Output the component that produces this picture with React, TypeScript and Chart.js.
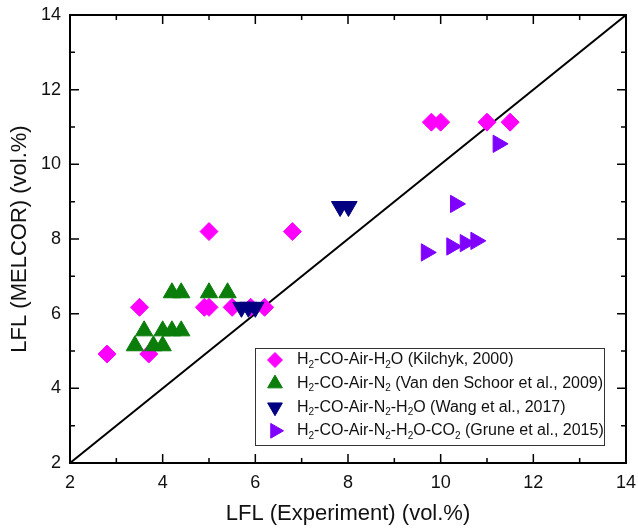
import { useEffect, useRef } from 'react';
import { Chart, registerables } from 'chart.js';
import { drawPoint } from 'chart.js/helpers';

Chart.register(...registerables);

const FONT = '"Liberation Sans", Arial, sans-serif';

// LFL values (vol.%), experiment on x, MELCOR on y
const kilchykX = [2.8, 3.5, 3.7, 4.9, 5.0, 5.0, 5.5, 5.9, 6.2, 6.8, 9.8, 10.0, 11.0, 11.5];
const kilchykY = [4.92, 6.17, 4.92, 6.17, 6.17, 8.2, 6.17, 6.17, 6.17, 8.2, 11.13, 11.13, 11.13, 11.13];

const schoorX = [3.4, 3.6, 3.8, 4.0, 4.0, 4.2, 4.2, 4.4, 4.4, 5.0, 5.4];
const schoorY = [5.14, 5.54, 5.14, 5.54, 5.14, 5.54, 6.56, 5.54, 6.56, 6.56, 6.56];

const wangX = [5.7, 5.85, 6.0, 7.83, 8.01];
const wangY = [6.17, 6.17, 6.17, 8.87, 8.87];

const gruneX = [9.69, 10.24, 10.53, 10.76, 10.32, 11.24];
const gruneY = [7.64, 7.8, 7.89, 7.95, 8.94, 10.55];

const parityX = [2, 14];
const parityY = [2, 14];

const seriesLabels = [
  'H_2-CO-Air-H_2O (Kilchyk, 2000)',
  'H_2-CO-Air-N_2 (Van den Schoor et al., 2009)',
  'H_2-CO-Air-N_2-H_2O (Wang et al., 2017)',
  'H_2-CO-Air-N_2-H_2O-CO_2 (Grune et al., 2015)',
];
const seriesColors = ['#ff00ff', '#0a7d0a', '#000080', '#8000ff'];
const seriesRotation = [0, 0, 180, 90];
const seriesStyle = ['rectRot', 'triangle', 'triangle', 'triangle'];
const seriesRadius = [9, 10, 10, 10];

const axisMin = 2;
const axisMax = 14;
const axisStep = 2;

const toPoints = (xs: number[], ys: number[]) => xs.map((x, i) => ({ x, y: ys[i] }));

// text with "_x" meaning subscript x
function drawRichText(ctx: CanvasRenderingContext2D, text: string, x: number, y: number, size: number) {
  let cx = x;
  for (const part of text.split(/(_.)/)) {
    if (!part) continue;
    if (part.startsWith('_')) {
      ctx.font = `${Math.round(size * 0.65)}px ${FONT}`;
      ctx.fillText(part[1], cx, y + size * 0.32);
      cx += ctx.measureText(part[1]).width;
    } else {
      ctx.font = `${size}px ${FONT}`;
      ctx.fillText(part, cx, y);
      cx += ctx.measureText(part).width;
    }
  }
}

const framePlugin = {
  id: 'frame',
  beforeDatasetsDraw(chart: any) {
    const { ctx, chartArea, scales } = chart;
    const { left, right, top, bottom } = chartArea;
    ctx.save();
    ctx.strokeStyle = '#000';
    ctx.lineWidth = 2;
    ctx.strokeRect(left, top, right - left, bottom - top);
    ctx.lineWidth = 1.5;
    ctx.beginPath();
    for (let v = axisMin; v <= axisMax; v += 1) {
      const len = v % 2 === 0 ? 9 : 5;
      const px = scales.x.getPixelForValue(v);
      const py = scales.y.getPixelForValue(v);
      ctx.moveTo(px, bottom);
      ctx.lineTo(px, bottom - len);
      ctx.moveTo(px, top);
      ctx.lineTo(px, top + len);
      ctx.moveTo(left, py);
      ctx.lineTo(left + len, py);
      ctx.moveTo(right, py);
      ctx.lineTo(right - len, py);
    }
    ctx.stroke();
    ctx.restore();
  },
};

const legendPlugin = {
  id: 'richLegend',
  afterDraw(chart: any) {
    const { ctx, chartArea } = chart;
    const boxW = 349;
    const boxH = 97;
    const bx = chartArea.right - 22 - boxW;
    const by = chartArea.bottom - 18 - boxH;
    ctx.save();
    ctx.fillStyle = '#fff';
    ctx.fillRect(bx, by, boxW, boxH);
    ctx.strokeStyle = '#333';
    ctx.lineWidth = 1;
    ctx.strokeRect(bx + 0.5, by + 0.5, boxW, boxH);
    seriesLabels.forEach((label, i) => {
      const cy = by + 12 + i * 23.6;
      ctx.fillStyle = seriesColors[i];
      ctx.strokeStyle = seriesColors[i];
      drawPoint(ctx, {
        pointStyle: seriesStyle[i],
        rotation: seriesRotation[i],
        radius: seriesRadius[i] - 1.5,
        borderWidth: 1,
      } as any, bx + 20, cy);
      ctx.fillStyle = '#111';
      ctx.textBaseline = 'middle';
      drawRichText(ctx, label, bx + 42, cy, 16);
    });
    ctx.restore();
  },
};

const seriesData = [
  toPoints(kilchykX, kilchykY),
  toPoints(schoorX, schoorY),
  toPoints(wangX, wangY),
  toPoints(gruneX, gruneY),
];

export default function App() {
  const chartRef = useRef<HTMLCanvasElement>(null);
  const chartInstance = useRef<Chart | null>(null);

  useEffect(() => {
    if (!chartRef.current) return;
    const ctx = chartRef.current.getContext('2d');
    if (!ctx) return;
    if (chartInstance.current) chartInstance.current.destroy();

    const scatterSets = seriesData.map((data, i) => ({
      type: 'scatter' as const,
      label: seriesLabels[i],
      data,
      order: 4 - i,
      pointStyle: seriesStyle[i],
      pointRotation: seriesRotation[i],
      pointRadius: seriesRadius[i],
      pointBackgroundColor: seriesColors[i],
      pointBorderColor: seriesColors[i],
      pointBorderWidth: 1,
      showLine: false,
    }));

    const axis = (title: string, isY: boolean) => ({
      type: 'linear' as const,
      min: axisMin,
      max: axisMax,
      afterFit: (scale: any) => {
        // fixed axis boxes, label overhang handled by layout padding
        if (isY) {
          scale.width = 70;
          scale.paddingTop = 0;
          scale.paddingBottom = 0;
        } else {
          scale.height = 69;
          scale.paddingLeft = 0;
          scale.paddingRight = 0;
        }
      },
      grid: { display: false, drawTicks: false },
      border: { display: false },
      ticks: {
        stepSize: axisStep,
        color: '#111',
        padding: 9,
        font: { family: FONT, size: 18 },
      },
      title: {
        display: true,
        text: title,
        color: '#111',
        font: { family: FONT, size: 22 },
        padding: isY ? { top: 7, bottom: 0 } : { top: 0, bottom: 5 },
      },
    });

    chartInstance.current = new Chart(ctx, {
      type: 'scatter',
      data: {
        datasets: [
          {
            type: 'line' as const,
            label: 'parity',
            data: toPoints(parityX, parityY),
            order: 10,
            borderColor: '#000',
            borderWidth: 2,
            pointRadius: 0,
            fill: false,
          },
          ...scatterSets,
        ] as any,
      },
      options: {
        animation: false,
        responsive: true,
        maintainAspectRatio: false,
        events: [],
        layout: { padding: { top: 15, right: 12, left: 0, bottom: 0 } },
        plugins: {
          legend: { display: false },
          tooltip: { enabled: false },
        },
        scales: {
          x: axis('LFL (Experiment) (vol.%)', false),
          y: axis('LFL (MELCOR) (vol.%)', true),
        },
      },
      plugins: [framePlugin, legendPlugin],
    });

    return () => {
      if (chartInstance.current) {
        chartInstance.current.destroy();
        chartInstance.current = null;
      }
    };
  }, []);

  return (
    <div style={{ position: 'fixed', left: 0, top: 0, width: 638, height: 532, background: '#fff' }}>
      <canvas ref={chartRef}></canvas>
    </div>
  );
}
